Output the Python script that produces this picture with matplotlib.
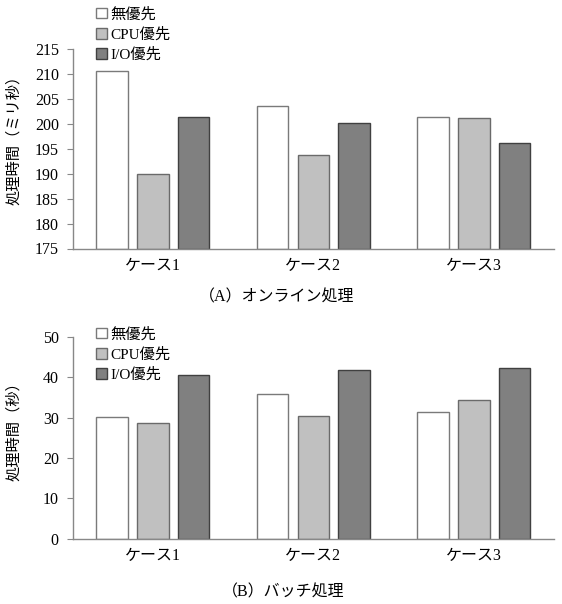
import matplotlib
matplotlib.use("Agg")
import matplotlib.pyplot as plt
from matplotlib.patches import Patch
import numpy as np

plt.rcParams['font.family'] = ['Liberation Serif', 'Noto Sans CJK JP']

categories = ["ケース1", "ケース2", "ケース3"]
series_names = ["無優先", "CPU優先", "I/O優先"]

online_none = [210.6, 203.5, 201.3]
online_cpu = [190.0, 193.8, 201.1]
online_io = [201.3, 200.2, 196.1]

batch_none = [30.1, 35.8, 31.3]
batch_cpu = [28.7, 30.4, 34.3]
batch_io = [40.7, 41.7, 42.3]

online_ticks = [175, 180, 185, 190, 195, 200, 205, 210, 215]
batch_ticks = [0, 10, 20, 30, 40, 50]

fills = ["#ffffff", "#c0c0c0", "#808080"]
edges = ["#7a7a7a", "#6a6a6a", "#404040"]

W, H = 562, 604
fig = plt.figure(figsize=(W / 100, H / 100), dpi=100)


def px_axes(x0, y0, x1, y1):
    return fig.add_axes([x0 / W, 1 - y1 / H, (x1 - x0) / W, (y1 - y0) / H])


def draw_bars(ax, data, base):
    x = np.arange(len(categories))
    offs = [-0.254, 0.0, 0.254]
    for vals, off, fc, ec in zip(data, offs, fills, edges):
        ax.bar(x + off, np.array(vals) - base, width=0.197, bottom=base,
               color=fc, edgecolor=ec, linewidth=1.0)


def fmt(ax, ticks, ylabel, ylabel_y, legend_top_px):
    x = np.arange(len(categories))
    ax.set_xlim(-0.5, 2.5)
    ax.set_ylim(ticks[0], ticks[-1])
    ax.set_yticks(ticks)
    ax.set_xticks(x)
    ax.set_xticklabels(categories)
    for s in ("top", "right"):
        ax.spines[s].set_visible(False)
    for s in ("left", "bottom"):
        ax.spines[s].set_color("#888888")
        ax.spines[s].set_linewidth(1.0)
    ax.tick_params(axis="y", length=4, color="#888888", labelsize=11.5, pad=6)
    ax.tick_params(axis="x", length=0, labelsize=11.5, pad=7)
    ax.set_ylabel(ylabel, fontsize=11, labelpad=9)
    ax.yaxis.set_label_coords(-0.107, ylabel_y)
    handles = [Patch(facecolor=fc, edgecolor=ec) for fc, ec in zip(fills, edges)]
    fig.legend(handles, series_names, loc="upper left",
               bbox_to_anchor=(96 / W, 1 - legend_top_px / H),
               frameon=False, fontsize=11, handlelength=0.7, handleheight=0.7,
               handletextpad=0.25, labelspacing=0.4, borderaxespad=0, borderpad=0)


ax1 = px_axes(72.7, 49, 554, 248.5)
draw_bars(ax1, [online_none, online_cpu, online_io], online_ticks[0])
fmt(ax1, online_ticks, "処理時間（ミリ秒）", 0.564, 7)

ax2 = px_axes(72.7, 337, 554, 538.7)
draw_bars(ax2, [batch_none, batch_cpu, batch_io], batch_ticks[0])
fmt(ax2, batch_ticks, "処理時間（秒）", 0.551, 327)

fig.text(277 / W, 1 - 297 / H, "（A）オンライン処理", ha="center", va="center", fontsize=11.5)
fig.text(283 / W, 1 - 592 / H, "（B）バッチ処理", ha="center", va="center", fontsize=11.5)

fig.savefig("out.png", dpi=100, facecolor="white")
